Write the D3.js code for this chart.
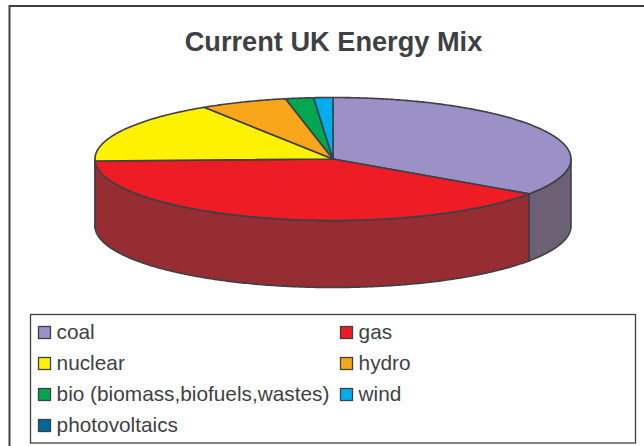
<!DOCTYPE html>
<html><head><meta charset="utf-8">
<style>html,body{margin:0;padding:0;background:#fff;overflow:hidden}svg{display:block}text{font-family:"Liberation Sans",Arial,sans-serif}</style>
<script src="https://cdn.jsdelivr.net/npm/d3@7"></script>
</head><body>
<script>
const categories = ["coal","gas","nuclear","hydro","bio (biomass,biofuels,wastes)","wind","photovoltaics"];
const shares = [34.6,39.9,16.4,5.9,1.9,1.3,0.0];
const topColors = ["#9b91c6","#ee1c25","#fff200","#faa61a","#00a650","#00aeef","#00689d"];
const sideColors = ["#6b6074","#952d32","#a89f10","#a87418","#00703a","#0075a0","#004668"];
const title = "Current UK Energy Mix";

const W=644,H=446, ink="#3f3f46";
const cx=333, cy=159, rx=238, ry=61.5, depth=67;
const svg=d3.select("body").append("svg").attr("width",W).attr("height",H);

svg.append("path").attr("d",`M9.5,446V6H644`).attr("fill","none").attr("stroke",ink).attr("stroke-width",2);
svg.append("text").attr("x",333.5).attr("y",50.5).attr("text-anchor","middle")
  .attr("font-size",27.2).attr("font-weight","bold").attr("fill",ink).text(title);

const pie=d3.pie().sort(null).value(d=>d)(shares);
const X=d3.scaleLinear().domain([-1,1]).range([cx-rx,cx+rx]);
const Y=d3.scaleLinear().domain([-1,1]).range([cy+ry,cy-ry]);
const arcPts=(a,b,dy=0)=>{
  const n=Math.max(2,Math.ceil((b-a)/0.01));
  return d3.range(n+1).map(i=>{const t=a+(b-a)*i/n;return [X(Math.sin(t)),Y(Math.cos(t))+dy];});
};
const line=d3.line();
const P=Math.PI;

// side wall (front half only)
pie.forEach((d,i)=>{
  const a=Math.max(d.startAngle,P/2), b=Math.min(d.endAngle,3*P/2);
  if(b<=a) return;
  const pts=arcPts(a,b).concat(arcPts(a,b,depth).reverse());
  svg.append("path").attr("d",line(pts)+"Z").attr("fill",sideColors[i])
    .attr("stroke",ink).attr("stroke-width",1.6).attr("stroke-linejoin","round");
});
// top slices
pie.forEach((d,i)=>{
  if(d.endAngle-d.startAngle<=0) return;
  const pts=[[X(0),Y(0)]].concat(arcPts(d.startAngle,d.endAngle));
  svg.append("path").attr("d",line(pts)+"Z").attr("fill",topColors[i])
    .attr("stroke",ink).attr("stroke-width",1.6).attr("stroke-linejoin","round");
});

// legend
svg.append("rect").attr("x",30.5).attr("y",314.5).attr("width",605).attr("height",128.5)
  .attr("fill","#fff").attr("stroke",ink).attr("stroke-width",1.3);
const colX=[38,340], rowY=d3.scalePoint().domain(d3.range(4)).range([332,425]);
categories.forEach((c,i)=>{
  const x=colX[i%2], y=rowY(Math.floor(i/2));
  svg.append("rect").attr("x",x+.5).attr("y",y-5.5).attr("width",12).attr("height",12)
    .attr("fill",topColors[i]).attr("stroke",ink).attr("stroke-width",1.3);
  svg.append("text").attr("x",x+18.6).attr("y",y+7).attr("font-size",20.8).attr("fill",ink).text(c);
});
</script>
</body></html>
